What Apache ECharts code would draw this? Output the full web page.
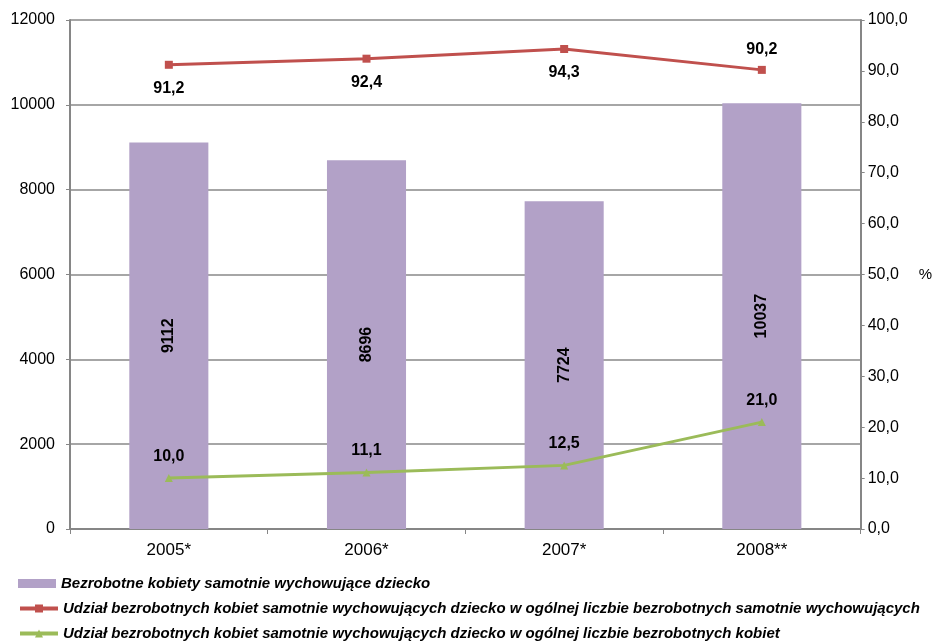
<!DOCTYPE html>
<html>
<head>
<meta charset="utf-8">
<script src="https://cdn.jsdelivr.net/npm/echarts@6/dist/echarts.min.js"></script>
<style>html,body{margin:0;padding:0;background:#fff}#c{width:935px;height:641px}</style>
</head>
<body>
<div id="c"></div>
<script>
var categories = ['2005*', '2006*', '2007*', '2008**'];
var barValues = [9112, 8696, 7724, 10037];
var redValues = [91.2, 92.4, 94.3, 90.2];
var greenValues = [10.0, 11.1, 12.5, 21.0];
var seriesNames = [
  'Bezrobotne kobiety samotnie wychowujące dziecko',
  'Udział bezrobotnych kobiet samotnie wychowujących dziecko w ogólnej liczbie bezrobotnych samotnie wychowujących',
  'Udział bezrobotnych kobiet samotnie wychowujących dziecko w ogólnej liczbie bezrobotnych kobiet'
];
var fmt1 = function (v) { return Number(v).toFixed(1).replace('.', ','); };
var chart = echarts.init(document.getElementById('c'));
var font = 'Liberation Sans, Arial, sans-serif';
var legendTops = [571, 596, 621];
var legends = seriesNames.map(function (n, i) {
  var item = i === 0 ? { name: n, icon: 'rect' } : { name: n };
  return {
    orient: 'vertical', left: 13, top: legendTops[i],
    itemWidth: 38, itemHeight: i === 0 ? 9 : 10, itemGap: 0,
    lineStyle: { width: 4 },
    textStyle: { color: '#000', fontSize: 15, fontStyle: 'italic', fontWeight: 'bold', fontFamily: font },
    data: [item]
  };
});
chart.setOption({
  animation: false,
  textStyle: { fontFamily: font },
  grid: { left: 70, right: 72, top: 20, bottom: 112, containLabel: false },
  xAxis: {
    type: 'category',
    data: categories,
    axisLine: { lineStyle: { color: '#868686', width: 2 } },
    axisTick: { show: true, length: 5, lineStyle: { color: '#868686' } },
    axisLabel: { color: '#000', fontSize: 17, margin: 13, fontFamily: font }
  },
  yAxis: [{
    type: 'value', min: 0, max: 12000, interval: 2000,
    axisLine: { show: true, lineStyle: { color: '#868686', width: 2 } },
    axisTick: { show: true, length: 4, lineStyle: { color: '#868686' } },
    splitLine: { show: true, lineStyle: { color: '#A6A6A6', width: 2 } },
    axisLabel: { color: '#000', fontSize: 16, margin: 15, fontFamily: font, formatter: function (v) { return String(v); } }
  }, {
    type: 'value', min: 0, max: 100, interval: 10,
    name: '%', nameLocation: 'middle', nameGap: 58, nameRotate: 0,
    nameTextStyle: { color: '#000', fontSize: 15, fontFamily: font, padding: [18, 0, 0, 0] },
    axisLine: { show: true, lineStyle: { color: '#868686', width: 2 } },
    axisTick: { show: true, length: 4, lineStyle: { color: '#868686' } },
    splitLine: { show: false },
    axisLabel: { color: '#000', fontSize: 16, margin: 7, fontFamily: font, formatter: fmt1 }
  }],
  legend: legends,
  series: [{
    name: seriesNames[0], type: 'bar', data: barValues, barWidth: '40%',
    itemStyle: { color: '#B2A1C7' },
    label: { show: true, position: 'inside', rotate: 90, color: '#000', fontSize: 16, fontWeight: 'bold', fontFamily: font }
  }, {
    name: seriesNames[1], type: 'line', yAxisIndex: 1,
    symbol: 'rect', symbolSize: 8,
    lineStyle: { color: '#C0504D', width: 3 }, itemStyle: { color: '#C0504D' },
    label: { show: true, formatter: function (p) { return fmt1(p.value); }, color: '#000', fontSize: 16, fontWeight: 'bold', fontFamily: font, position: 'bottom', distance: 12 },
    data: redValues.map(function (v, i) {
      return i === 3 ? { value: v, label: { position: 'top', distance: 8 } } : { value: v };
    })
  }, {
    name: seriesNames[2], type: 'line', yAxisIndex: 1,
    symbol: 'triangle', symbolSize: 8,
    lineStyle: { color: '#9BBB59', width: 3 }, itemStyle: { color: '#9BBB59' },
    label: { show: true, formatter: function (p) { return fmt1(p.value); }, color: '#000', fontSize: 16, fontWeight: 'bold', fontFamily: font, position: 'top', distance: 10 },
    data: greenValues
  }]
});
</script>
</body>
</html>
